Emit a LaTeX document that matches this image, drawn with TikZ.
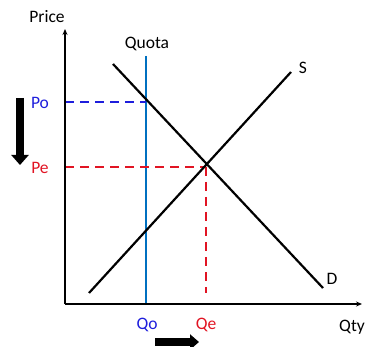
\documentclass[tikz,border=0pt]{standalone}
\usepackage{fontspec}
\setmainfont{Carlito}
\usetikzlibrary{arrows.meta}
\definecolor{qblue}{RGB}{0,112,192}
\definecolor{pblue}{RGB}{30,30,220}
\definecolor{pred}{RGB}{225,20,35}
\tikzset{
  axis/.style={line width=1.7pt,-{Stealth[length=6pt,width=5pt]}},
  curve/.style={line width=2.2pt},
  quota/.style={line width=1.9pt,qblue},
  bdash/.style={line width=2.4pt,pblue,dash pattern=on 9pt off 6pt},
  rdash/.style={line width=2.8pt,pred,dash pattern=on 9pt off 6pt},
  lbl/.style={font=\fontsize{17.5}{20}\selectfont,inner sep=0pt},
  fat/.style={line width=7.5pt,-{Triangle[length=10pt,width=17pt]}}
}
\begin{document}
\begin{tikzpicture}[x=1pt,y=-1pt]
\useasboundingbox (0,0) rectangle (369,347);
\coordinate (O) at (65,304);
\coordinate (ytop) at (65,29);
\coordinate (xend) at (362,304);
\coordinate (d1) at (113,64);
\coordinate (d2) at (323,288);
\coordinate (s1) at (89,293);
\coordinate (s2) at (291,72);
\coordinate (q1) at (146,56);
\coordinate (q2) at (146,304);
\coordinate (po0) at (65,102);
\coordinate (poq) at (146,102);
\coordinate (pe0) at (65,167);
\coordinate (E) at (206,167);
\coordinate (qe) at (206,293);
\coordinate (da1) at (20,98);
\coordinate (da2) at (20,165);
\coordinate (ra1) at (155,342);
\coordinate (ra2) at (199,342);

\draw[quota] (q1) -- (q2);
\draw[bdash] (po0) -- (poq);
\draw[rdash] (pe0) -- (E);
\draw[rdash] (E) -- (qe);
\draw[curve] (d1) -- (d2);
\draw[curve] (s1) -- (s2);
\draw[axis] (O) -- (ytop);
\draw[axis] (O) -- (xend);

\node[lbl] (price) at (47,17) {Price};
\node[lbl] (quota) at (147,44) {Quota};
\node[lbl] (S) at (303,68) {S};
\node[lbl] (D) at (332,279) {D};
\node[lbl,pblue] (Po) at (40,103) {Po};
\node[lbl,pred] (Pe) at (40,168) {Pe};
\node[lbl,pblue] (Qo) at (147,325) {Qo};
\node[lbl,pred] (Qe) at (206,325) {Qe};
\node[lbl] (Qty) at (352,327) {Qty};

\draw[fat] (da1) -- (da2);
\draw[fat,-{Triangle[length=9pt,width=15pt]}] (ra1) -- (ra2);
\end{tikzpicture}
\end{document}
